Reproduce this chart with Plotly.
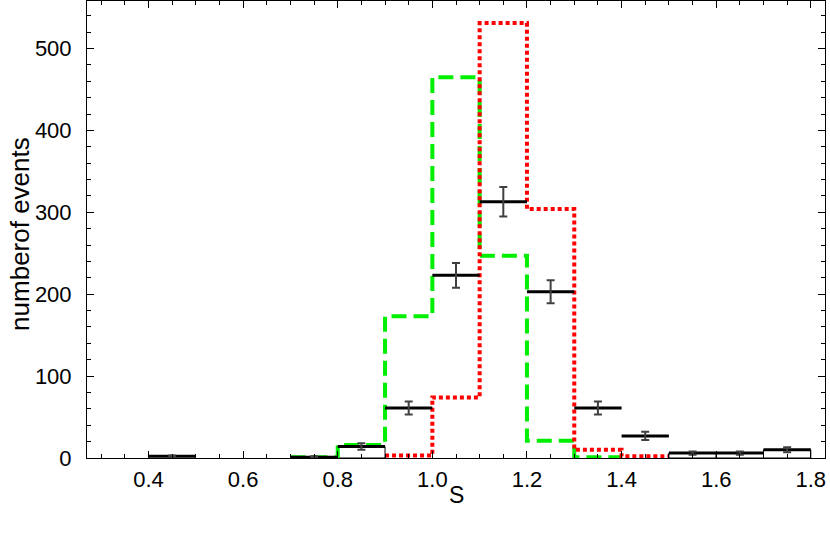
import plotly.graph_objects as go

# black data histogram (bin lower edges, counts, errors)
data_lo = [0.4, 0.7, 0.8, 0.9, 1.0, 1.1, 1.2, 1.3, 1.4, 1.5, 1.6, 1.7]
data_val = [2, 1, 14, 61, 223, 313, 203, 61, 27, 6, 6, 10]
data_err = [1, 1, 4, 8, 15, 18, 14, 8, 5, 2, 2, 3]
bin_w = 0.1

# green dashed histogram
green_edges = [0.7, 0.8, 0.9, 1.0, 1.1, 1.2, 1.3, 1.4]
green_val = [1, 16, 173, 465, 247, 21, 1]

# red dotted histogram
red_edges = [0.9, 1.0, 1.1, 1.2, 1.3, 1.4, 1.5]
red_val = [3, 74, 531, 304, 10, 2]

# bins drawn with thin outlines
outline_lo = [0.8, 1.5, 1.6, 1.7]
outline_val = [14, 6, 6, 10]

x_title = "S"
y_title = "numberof events"

FONT = "Liberation Sans, Arial"

fig = go.Figure()

fig.add_trace(go.Bar(
    x=[v + bin_w / 2 for v in outline_lo], y=outline_val, width=bin_w,
    marker=dict(color="rgba(0,0,0,0)", line=dict(color="black", width=1)),
    showlegend=False, hoverinfo="skip"))

fig.add_trace(go.Scatter(
    x=green_edges, y=green_val + [green_val[-1]], mode="lines", line_shape="hv",
    line=dict(color="#00ee00", width=4, dash="15px,7px"), showlegend=False))

fig.add_trace(go.Scatter(
    x=red_edges, y=red_val + [red_val[-1]], mode="lines", line_shape="hv",
    line=dict(color="#ff0000", width=4, dash="4px,3px"), showlegend=False))

seg_x, seg_y = [], []
for lo, v in zip(data_lo, data_val):
    seg_x += [lo, lo + bin_w, None]
    seg_y += [v, v, None]
fig.add_trace(go.Scatter(x=seg_x, y=seg_y, mode="lines",
                         line=dict(color="black", width=3), showlegend=False))

fig.add_trace(go.Scatter(
    x=[lo + bin_w / 2 for lo in data_lo], y=data_val, mode="markers",
    marker=dict(size=1, color="#404040"),
    error_y=dict(type="data", array=data_err, color="#404040", thickness=2, width=4),
    showlegend=False))

axis_common = dict(showline=True, linecolor="black", linewidth=1, mirror="allticks",
                   ticks="inside", tickcolor="black", showgrid=False, zeroline=False,
                   automargin=False,
                   tickfont=dict(family=FONT, size=22, color="black"))

fig.update_xaxes(range=[0.27, 1.83], dtick=0.2, tick0=0, ticklen=7, tickformat=".1f",
                 minor=dict(dtick=0.05, ticks="inside", ticklen=4, tickcolor="black"),
                 ticklabelstandoff=2, **axis_common)
fig.update_yaxes(range=[0, 558], dtick=100, ticklen=7,
                 minor=dict(dtick=20, ticks="inside", ticklen=4, tickcolor="black"),
                 ticklabelstandoff=10, **axis_common)

fig.add_annotation(text=x_title, xref="paper", yref="paper", x=0.5, y=-0.08,
                   xanchor="center", yanchor="middle", showarrow=False,
                   font=dict(family=FONT, size=23, color="black"))
fig.add_annotation(text=y_title, xref="paper", yref="paper", x=-0.091, y=0.49,
                   xanchor="center", yanchor="middle", textangle=-90, showarrow=False,
                   font=dict(family=FONT, size=26, color="black"))

fig.update_layout(width=830, height=534, margin=dict(l=87, r=5, t=1, b=76),
                  plot_bgcolor="white", paper_bgcolor="white", barmode="overlay",
                  showlegend=False)

fig.write_html("out.html", config={"displayModeBar": False},
               post_script="document.body.style.margin='0';")
